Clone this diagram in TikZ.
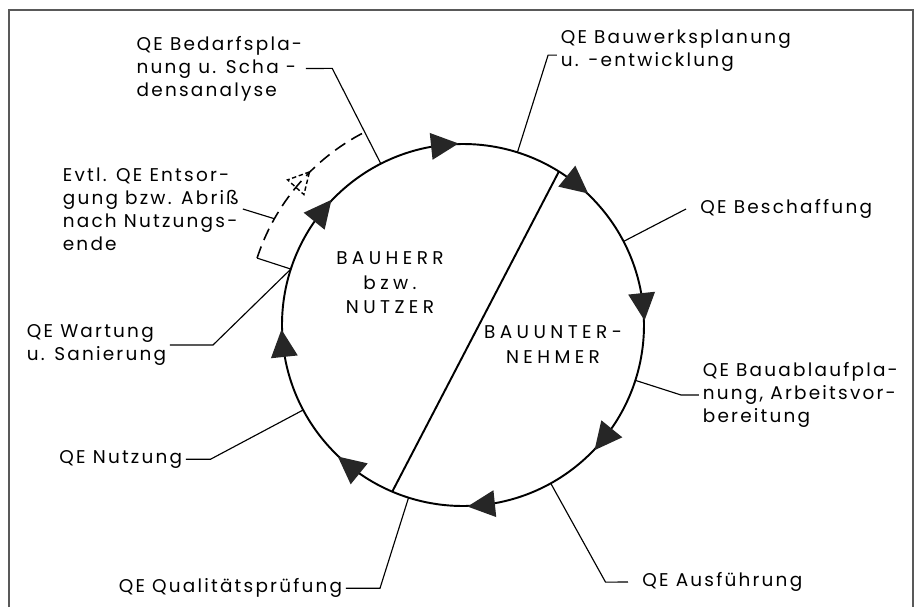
\documentclass[tikz,border=0pt]{standalone}
\usepackage{fontspec}
\setmainfont{Poppins}[LetterSpace=12.0]
\usetikzlibrary{calc,positioning,arrows}
\tikzset{
>=stealth',
  kreislinie/.style={draw=black, line width=1.1pt},
  linie/.style={draw=black, line width=0.65pt},
  beschriftung/.style={
    font=\fontsize{10.5}{13}\selectfont,
    align=left,
    inner sep=2pt},
  mitte/.style={
    font=\fontsize{10.5}{14}\selectfont\addfontfeatures{LetterSpace=24.0},
    align=center},
  pfeil/.style={fill=black!85},
  rahmen/.style={draw=black!65, line width=1pt},
  strich/.style={dash pattern=on 7pt off 4pt, line width=0.9pt},
}

\begin{document}
\begin{tikzpicture}
    \def\kreisr{3.62}
    \useasboundingbox (-9.26,-5.64) rectangle (9.12,6.5);
    \draw[rahmen] (-9.08,-5.64) |- (9.0,6.3) -- (9.0,-5.64);

    \draw[kreislinie] (0,0) circle (\kreisr);
    \draw[kreislinie] (58:\kreisr) -- (247:\kreisr);

    \foreach \a in {6,51,...,321}
      \fill[pfeil, rotate=\a] (\kreisr,-0.29) -- (\kreisr+0.27,0.26) -- (\kreisr-0.27,0.26) -- cycle;

    \node[mitte] (bauherr) at (-1.46,0.84) {BAUHERR\\bzw.\\NUTZER};
    \node[mitte] (unternehmer) at (1.8,-0.39) {BAUUNTER-\\NEHMER};

    \draw[linie] (162:\kreisr) -- (162:4.33);
    \draw[linie, strich] (162:4.33) arc[start angle=162, end angle=117, radius=4.33];
    \draw[linie, dash pattern=on 2.5pt off 1.5pt, line width=0.8pt, rotate=138]
      (4.33,-0.22) -- (4.55,0.19) -- (4.11,0.19) -- cycle;

    \node[beschriftung, anchor=east] (bedarf) at (-3.14,5.13)
      {QE Bedarfspla-\\nung u. Scha -\\densanalyse};
    \coordinate (k1) at (117:5.76);
    \draw[linie] (117:\kreisr) -- (k1) -- (bedarf.east);

    \node[beschriftung, anchor=west] (entsorgung) at (-8.08,2.32)
      {Evtl. QE Entsor-\\gung bzw. Abriß\\nach Nutzungs-\\ende};
    \draw[linie] (entsorgung.east) -- (150.6:4.33);

    \node[beschriftung, anchor=east] (wartung) at (-5.86,-0.4)
      {QE Wartung\\u. Sanierung};
    \draw[linie] (162:\kreisr) -- (-5.0,-0.4) -- (wartung.east);

    \node[beschriftung, anchor=east] (nutzung) at (-5.54,-2.685) {QE Nutzung};
    \draw[linie] (208:\kreisr) -- (208:5.72) -- (nutzung.east);

    \node[beschriftung, anchor=east] (pruefung) at (-2.34,-5.265) {QE Qualitätsprüfung};
    \draw[linie] (252.5:\kreisr) -- (252.5:5.52) -- (pruefung.east);

    \node[beschriftung, anchor=west, inner xsep=8pt] (ausfuehrung) at (3.3,-5.14) {QE Ausführung};
    \draw[linie] (-61:\kreisr) -- (-61:5.88) -- (ausfuehrung.west);

    \node[beschriftung, anchor=west] (ablauf) at (4.72,-1.4)
      {QE Bauablaufpla-\\nung, Arbeitsvor-\\bereitung};
    \draw[linie] (-17.8:\kreisr) -- (-17.8:4.58) -- (ablauf.west);

    \node[beschriftung, anchor=west, inner xsep=8pt] (beschaffung) at (4.46,2.32) {QE Beschaffung};
    \draw[linie] (27.5:\kreisr) -- (beschaffung.west);

    \node[beschriftung, anchor=west] (bauwerk) at (1.88,5.48)
      {QE Bauwerksplanung\\u. -entwicklung};
    \coordinate (k9) at (72.5:5.66);
    \draw[linie] (72.5:\kreisr) -- (k9) -- (k9 -| bauwerk.west);
\end{tikzpicture}
\end{document}
